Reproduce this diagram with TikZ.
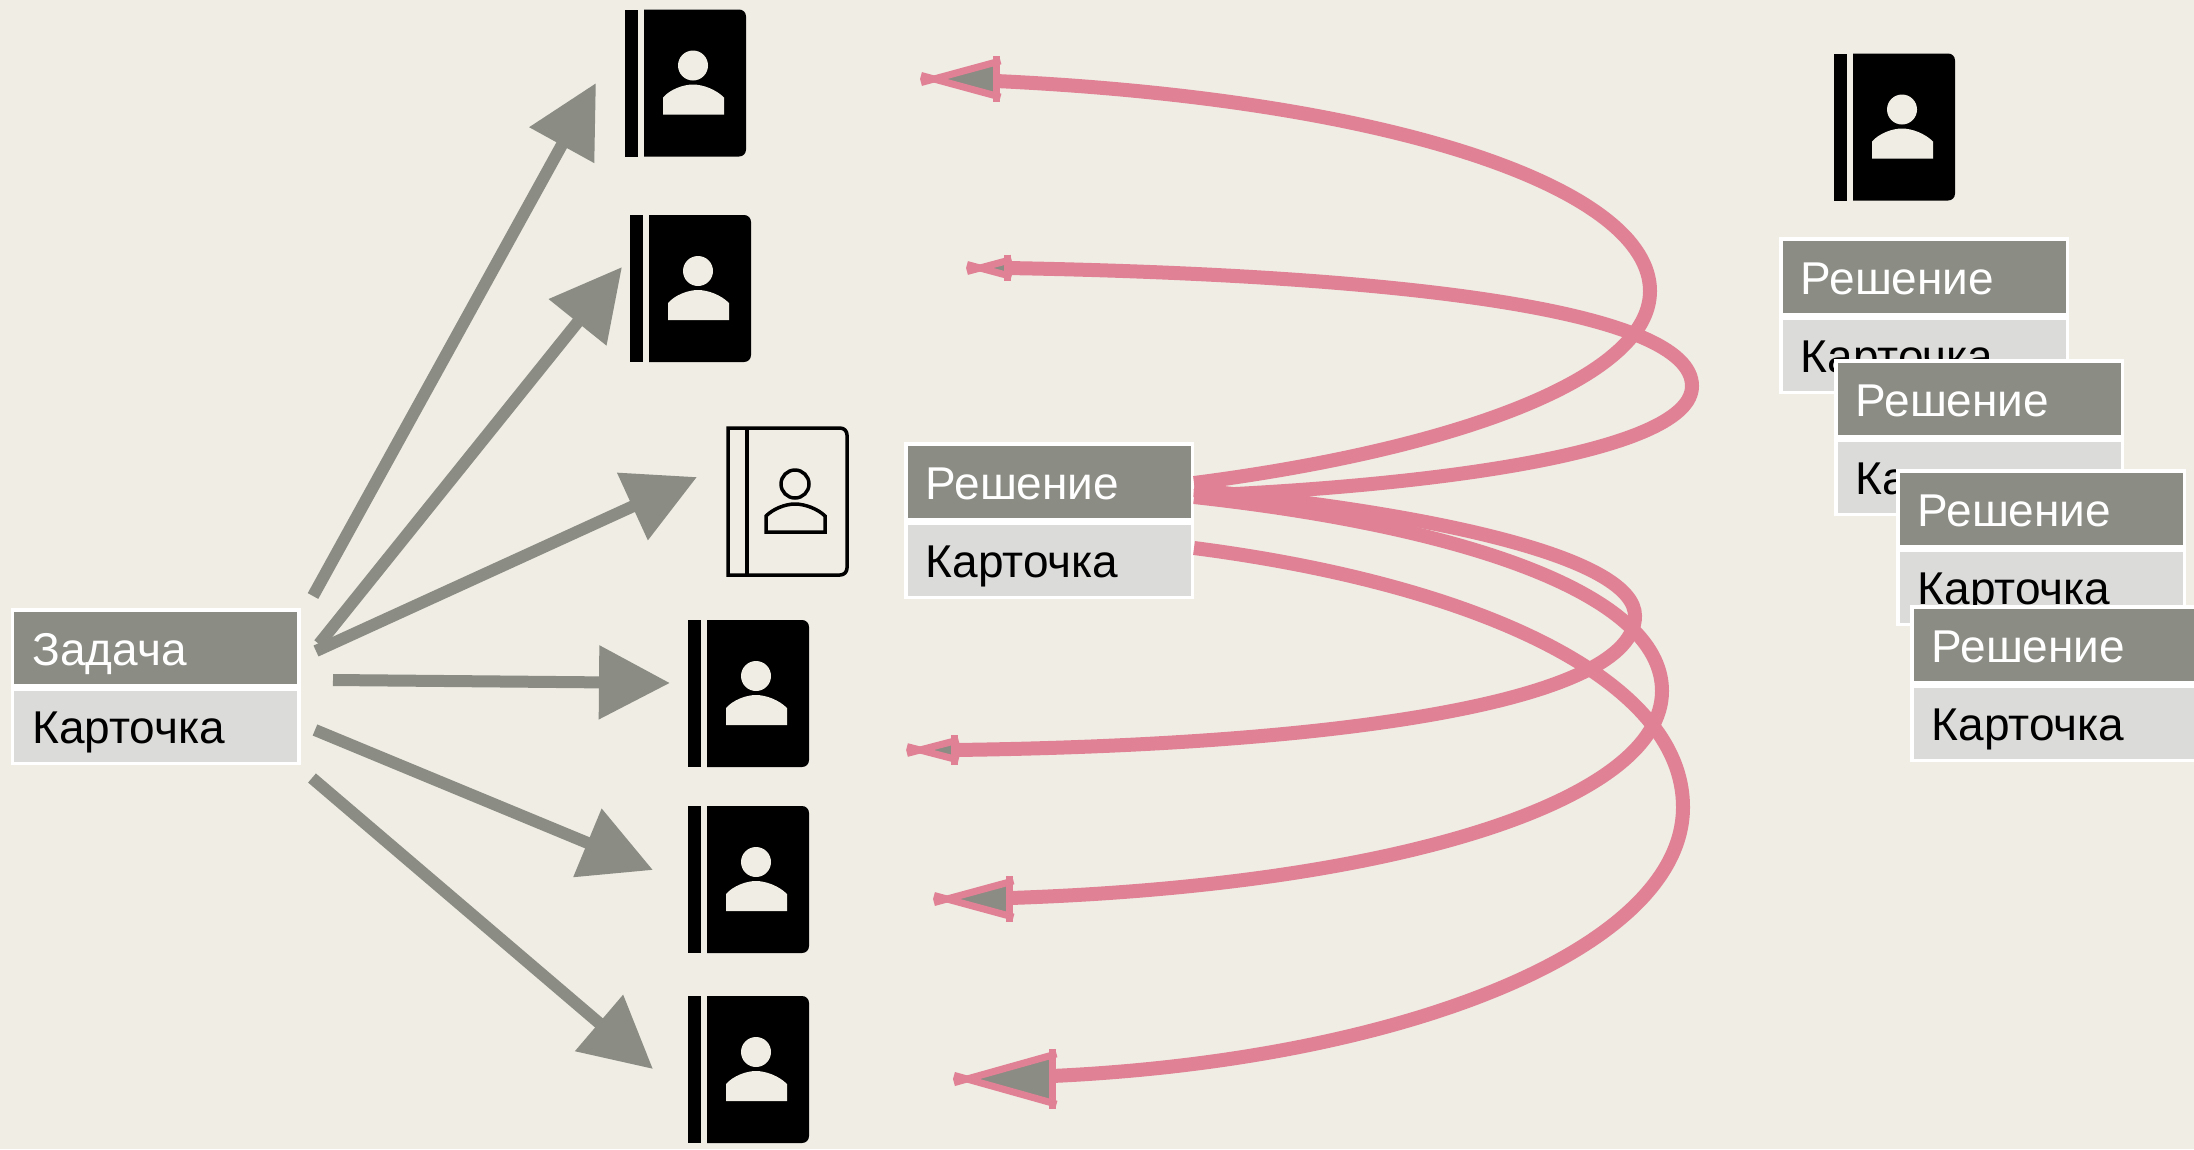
\documentclass[tikz,border=0pt]{standalone}
\usepackage{fontspec}
\setmainfont{Liberation Sans}
\usetikzlibrary{arrows.meta}
\definecolor{bgc}{HTML}{EFEDE4}
\definecolor{grayc}{HTML}{8B8C84}
\definecolor{lightc}{HTML}{DBDBDA}
\definecolor{pinkc}{HTML}{E08195}
\tikzset{
  cardtop/.style={rectangle,anchor=north west,draw=white,line width=3.5pt,fill=grayc,text=white,
    minimum width=286.5pt,minimum height=75.5pt,inner xsep=20pt,inner ysep=0pt,text width=246.5pt,align=left,
    text height=36pt,text depth=0pt,font=\fontsize{46}{50}\selectfont},
  cardbot/.style={rectangle,anchor=north west,draw=white,line width=3.5pt,fill=lightc,text=black,
    minimum width=286.5pt,minimum height=74.5pt,inner xsep=20pt,inner ysep=0pt,text width=246.5pt,align=left,
    text height=34pt,text depth=0pt,font=\fontsize{46}{50}\selectfont},
  grayarrow/.style={draw=grayc,line width=12pt,-{Triangle[length=71pt,width=71pt]}},
  pinkcurve/.style={draw=pinkc,line width=14pt},
  pinkedge/.style={draw=pinkc,line width=7pt},
  iconline/.style={draw=black,line width=3.5pt}
}
% card: name, x, y, title, body
\newcommand{\cardpair}[5]{%
  \node[cardtop] (#1t) at (#2,#3) {#4};
  \node[cardbot] (#1b) at (#2,#3+79) {#5};
}
% solid icon: x, y
\newcommand{\solidicon}[2]{%
  \begin{scope}[shift={(#1,#2)}]
    \fill[black] (0,0) rectangle (12.5,147);
    \fill[black] (19,0) -- (114,0) .. controls (118,0) and (121,3) .. (121,7) -- (121,140) .. controls (121,144) and (118,147) .. (114,147) -- (19,147) -- cycle;
    \fill[bgc] (68,56) circle[radius=15];
    \fill[bgc] (38,105) -- (38,88) .. controls (45,80) and (58,75) .. (68,75) .. controls (78,75) and (91,80) .. (99,88) -- (99,105) -- cycle;
  \end{scope}
}
% pink arrow head: tip x, tip y, base x, half height, name
\newcommand{\pinkhead}[5]{%
  \coordinate (#5) at (#1,#2);
  \fill[grayc] (#1,#2) -- (#3,#2-#4) -- (#3,#2+#4) -- cycle;
  \path[pinkedge] (#1-13,{#2+13*#4/(#3-#1)}) -- ({#3+4},{#2-#4*(#3+4-#1)/(#3-#1)});
  \path[pinkedge] (#1-13,{#2-13*#4/(#3-#1)}) -- ({#3+4},{#2+#4*(#3+4-#1)/(#3-#1)});
  \path[pinkedge] (#3,#2-#4-6) -- (#3,#2+#4+6);
}
\begin{document}
\begin{tikzpicture}[x=1pt,y=-1pt]
\useasboundingbox (0,0) rectangle (2194,1149);
\clip (0,0) rectangle (2194,1149);
\fill[bgc] (0,0) rectangle (2194,1149);

% icons
\solidicon{625}{9.5}
\solidicon{630}{215}
\solidicon{688}{620}
\solidicon{688}{806}
\solidicon{688}{996}
\solidicon{1834}{53.5}
% outlined icon
\begin{scope}[shift={(726,426)}]
  \draw[iconline] (2,2) -- (114,2) .. controls (118,2) and (121,5) .. (121,9) -- (121,142) .. controls (121,146) and (118,149) .. (114,149) -- (2,149) -- cycle;
  \draw[iconline] (21,2) -- (21,149);
  \draw[iconline] (69,58) circle[radius=14];
  \draw[iconline] (40,106) -- (40,90) .. controls (47,83) and (59,78) .. (69,78) .. controls (79,78) and (92,83) .. (99,90) -- (99,106) -- cycle;
\end{scope}

% cards
\cardpair{task}{10.5}{608}{Задача}{Карточка}
\cardpair{sol}{904}{442}{Решение}{Карточка}
\cardpair{sa}{1779}{237}{Решение}{Карточка}
\cardpair{sb}{1834}{359}{Решение}{Карточка}
\cardpair{sc}{1896}{469}{Решение}{Карточка}
\cardpair{sd}{1910}{605}{Решение}{Карточка}

% gray arrows
\coordinate (g1s) at (313,596); \coordinate (g1e) at (596,83);
\coordinate (g2s) at (319,644); \coordinate (g2e) at (622,267);
\coordinate (g3s) at (316,651); \coordinate (g3e) at (697,477);
\coordinate (g4s) at (333,680); \coordinate (g4e) at (670,683);
\coordinate (g5s) at (315,730); \coordinate (g5e) at (653,870);
\coordinate (g6s) at (312,778); \coordinate (g6e) at (653,1069);
\foreach \n in {1,...,6} {\path[grayarrow] (g\n s) -- (g\n e);}

% pink curves
\coordinate (p1) at (1194,483);
\coordinate (p2) at (1194,496);
\coordinate (p3) at (1194,490);
\coordinate (p4) at (1194,497);
\coordinate (p5) at (1194,548);
\pinkhead{934}{79}{996.5}{17}{h1}
\pinkhead{980}{268}{1007.5}{7.4}{h2}
\pinkhead{920}{750}{954.5}{9}{h3}
\pinkhead{947}{899}{1009.5}{17}{h4}
\pinkhead{967}{1079}{1052.5}{24}{h5}
\path[pinkcurve] (p1) .. controls (1450,450) and (1650,380) .. (1650,291) .. controls (1650,190) and (1400,100) .. (996,81);
\path[pinkcurve] (p2) .. controls (1450,485) and (1692,450) .. (1692,386) .. controls (1692,310) and (1400,275) .. (1007,268);
\path[pinkcurve] (p3) .. controls (1450,515) and (1635,560) .. (1635,616) .. controls (1635,700) and (1350,745) .. (954,750);
\path[pinkcurve] (p4) .. controls (1450,525) and (1662,590) .. (1662,691) .. controls (1662,800) and (1400,885) .. (1010,898);
\path[pinkcurve] (p5) .. controls (1480,585) and (1683,680) .. (1683,807) .. controls (1683,950) and (1400,1060) .. (1052,1076);
\end{tikzpicture}
\end{document}
